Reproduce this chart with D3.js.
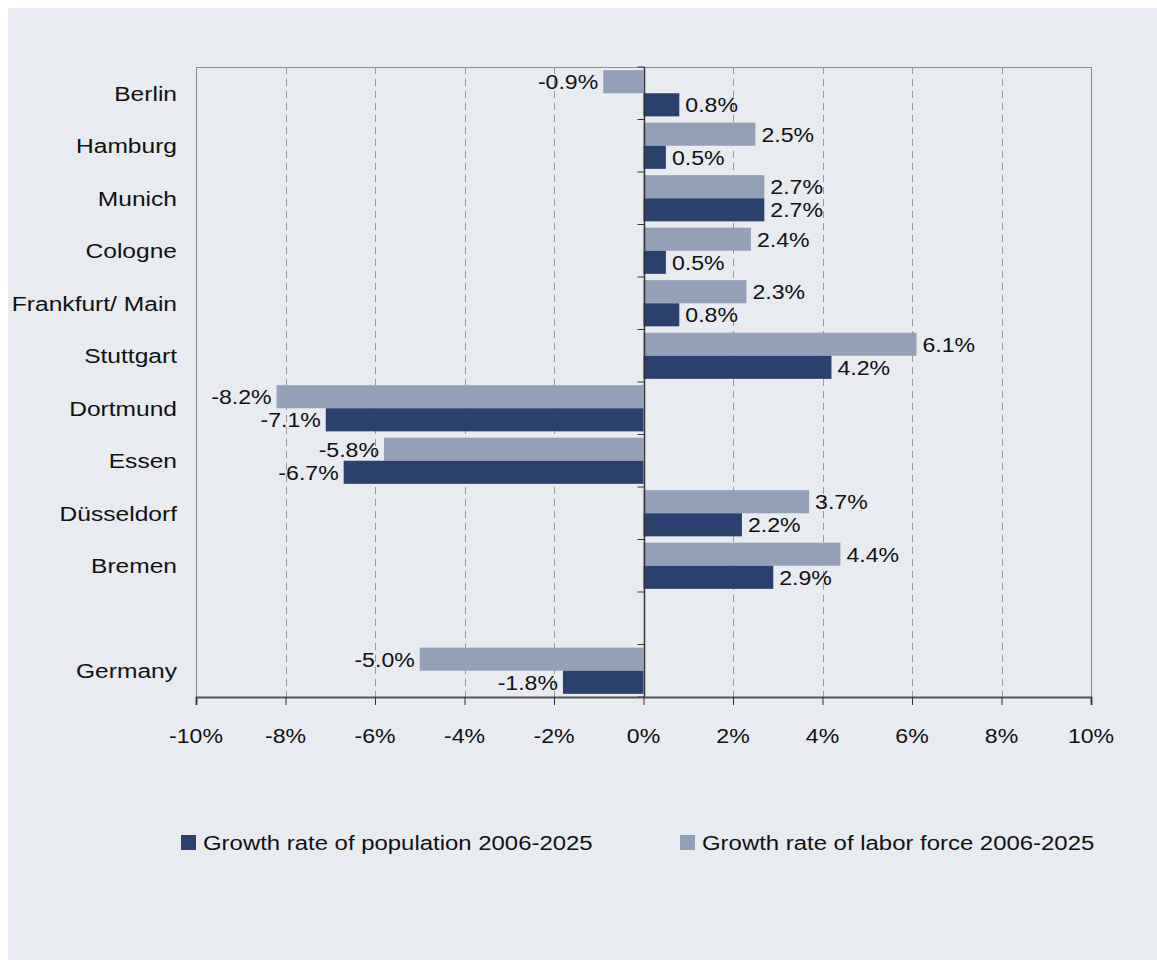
<!DOCTYPE html>
<html>
<head>
<meta charset="utf-8">
<script src="https://cdn.jsdelivr.net/npm/d3@7.9.0/dist/d3.min.js"></script>
<style>
  body { margin: 0; background: #fff; }
  svg text { font-family: "Liberation Sans", Arial, sans-serif; fill: #111; }
</style>
</head>
<body>
<svg id="chart" width="1157" height="960"></svg>
<script>
// data
const cities = ["Berlin", "Hamburg", "Munich", "Cologne", "Frankfurt/ Main", "Stuttgart",
                "Dortmund", "Essen", "Düsseldorf", "Bremen", "", "Germany"];
const population = [0.8, 0.5, 2.7, 0.5, 0.8, 4.2, -7.1, -6.7, 2.2, 2.9, null, -1.8];
const laborForce = [-0.9, 2.5, 2.7, 2.4, 2.3, 6.1, -8.2, -5.8, 3.7, 4.4, null, -5.0];
const xTicks = [-10, -8, -6, -4, -2, 0, 2, 4, 6, 8, 10];
const seriesNames = ["Growth rate of population 2006-2025", "Growth rate of labor force 2006-2025"];

const darkBlue = "#2a4170";
const lightBlue = "#94a0b8";
const fontSize = 21;

const svg = d3.select("#chart");
svg.append("rect").attr("x", 8).attr("y", 8).attr("width", 1149).attr("height", 952).attr("fill", "#e8ebf0");

const plotL = 196, plotR = 1091, plotT = 67, plotB = 697;

const x = d3.scaleLinear().domain([-10, 10]).range([plotL, plotR]);
const y = d3.scaleBand().domain(d3.range(cities.length)).range([plotT, plotB]).paddingInner(0.12).paddingOuter(0.06);
const yOuter = d3.scaleBand().domain(d3.range(cities.length)).range([plotT, plotB]);

// text is a bit wide in the original, so stretch it horizontally
function label(parent, tx, ty, str, anchor, sx) {
  parent.append("g").attr("transform", `translate(${tx},${ty}) scale(${sx},1)`)
    .append("text").attr("dy", "0.35em").attr("text-anchor", anchor)
    .attr("font-size", fontSize).text(str);
}

// frame
svg.append("rect").attr("x", plotL + 0.5).attr("y", plotT + 0.5).attr("width", plotR - plotL).attr("height", plotB - plotT)
  .attr("fill", "none").attr("stroke", "#8c8c8c").attr("stroke-width", 1);

// dashed gridlines
svg.append("g").selectAll("line").data(xTicks.filter(t => t !== 0 && Math.abs(t) !== 10)).join("line")
  .attr("x1", d => Math.round(x(d)) + 0.5).attr("x2", d => Math.round(x(d)) + 0.5)
  .attr("y1", plotT).attr("y2", plotB)
  .attr("stroke", "#9a9a9a").attr("stroke-dasharray", "7,5");

// bars
const half = y.bandwidth() / 2;
const rows = cities.map((c, i) => ({ i, c, pop: population[i], lab: laborForce[i] })).filter(d => d.pop !== null);

const g = svg.append("g");
g.selectAll("rect.lab").data(rows).join("rect")
  .attr("x", d => x(Math.min(0, d.lab))).attr("width", d => Math.abs(x(d.lab) - x(0)))
  .attr("y", d => y(d.i)).attr("height", half).attr("fill", lightBlue);
g.selectAll("rect.pop").data(rows).join("rect")
  .attr("x", d => x(Math.min(0, d.pop))).attr("width", d => Math.abs(x(d.pop) - x(0)))
  .attr("y", d => y(d.i) + half).attr("height", half).attr("fill", darkBlue);

// value labels
function valueLabel(val, yy) {
  label(g, val >= 0 ? x(val) + 6 : x(val) - 5, yy, val.toFixed(1) + "%", val >= 0 ? "start" : "end", 1.1);
}
rows.forEach(d => {
  valueLabel(d.lab, y(d.i) + half / 2);
  valueLabel(d.pop, y(d.i) + half * 1.5);
});

// zero axis with ticks at band boundaries
const zx = Math.round(x(0)) + 0.5;
svg.append("line").attr("x1", zx).attr("x2", zx).attr("y1", plotT).attr("y2", plotB)
  .attr("stroke", "#333").attr("stroke-width", 1.5);
svg.append("g").selectAll("line").data(d3.range(cities.length + 1)).join("line")
  .attr("x1", zx - 7).attr("x2", zx)
  .attr("y1", d => plotT + d * yOuter.step()).attr("y2", d => plotT + d * yOuter.step())
  .attr("stroke", "#333");

// category labels
const cat = svg.append("g");
cities.forEach((c, i) => label(cat, 177, yOuter(i) + yOuter.bandwidth() / 2, c, "end", 1.17));

// bottom axis
const xAxis = svg.append("g").attr("transform", `translate(0,${plotB})`)
  .call(d3.axisBottom(x).tickValues(xTicks).tickSize(8).tickFormat(""));
xAxis.select(".domain").attr("stroke", "#555").attr("stroke-width", 2);
xAxis.selectAll(".tick line").attr("stroke", "#333");
const tickLabels = svg.append("g");
xTicks.forEach(t => label(tickLabels, x(t), 736, t + "%", "middle", 1.1));

// legend
const legend = svg.append("g");
const legendX = [181, 680];
[darkBlue, lightBlue].forEach((col, i) => {
  legend.append("rect").attr("x", legendX[i]).attr("y", 835).attr("width", 15).attr("height", 15).attr("fill", col);
  label(legend, legendX[i] + 22, 843, seriesNames[i], "start", 1.14);
});
</script>
</body>
</html>
